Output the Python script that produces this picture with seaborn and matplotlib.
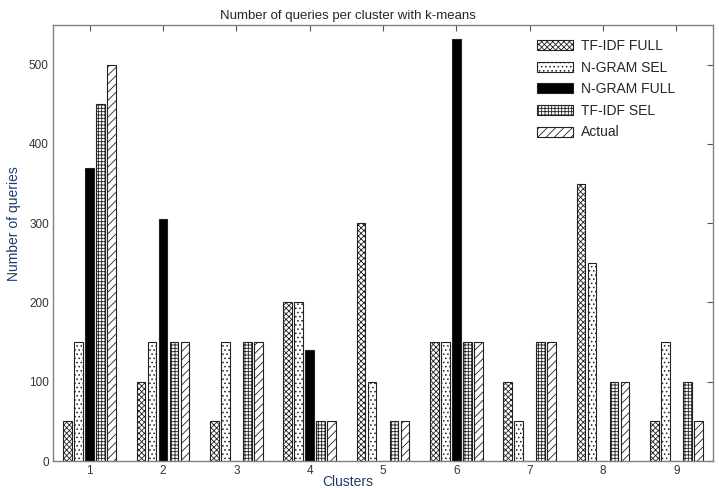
import pandas as pd
import matplotlib
matplotlib.use("Agg")
import matplotlib.pyplot as plt
import seaborn as sns

# values
clusters = ["1", "2", "3", "4", "5", "6", "7", "8", "9"]
methods = ["TF-IDF FULL", "N-GRAM SEL", "N-GRAM FULL", "TF-IDF SEL", "Actual"]
tfidf_full = [50, 100, 50, 200, 300, 150, 100, 350, 50]
ngram_sel = [150, 150, 150, 200, 100, 150, 50, 250, 150]
ngram_full = [370, 305, 0, 140, 0, 532, 0, 0, 0]
tfidf_sel = [450, 150, 150, 50, 50, 150, 150, 100, 100]
actual = [500, 150, 150, 50, 50, 150, 150, 100, 50]

series = [tfidf_full, ngram_sel, ngram_full, tfidf_sel, actual]
rows = []
for name, vals in zip(methods, series):
    for c, v in zip(clusters, vals):
        rows.append({"Cluster": c, "Method": name, "Queries": v})
df = pd.DataFrame(rows)

fills = ["white", "white", "black", "white", "white"]
hatches = ["xxxxxx", "....", "", "+++++", "////"]

sns.set_style("white")
plt.rcParams["font.family"] = ["Liberation Sans", "DejaVu Sans"]
plt.rcParams["hatch.linewidth"] = 0.6

fig = plt.figure(figsize=(7.19, 4.88), dpi=100)
ax = fig.add_axes([0.0737, 0.0553, 0.918, 0.8935])

sns.barplot(data=df, x="Cluster", y="Queries", hue="Method", hue_order=methods,
            order=clusters, palette=fills, width=0.75, gap=0.2,
            edgecolor="#222222", linewidth=0.8, legend=False, ax=ax)

for cont, h in zip(ax.containers, hatches):
    for p in cont.patches:
        p.set_hatch(h)

ax.set_xlim(-0.5, 8.5)
ax.set_ylim(0, 550)
ax.set_yticks([0, 100, 200, 300, 400, 500])

for s in ax.spines.values():
    s.set_color("#808080")
    s.set_linewidth(1.0)
    s.set_visible(True)

ax.tick_params(direction="in", top=True, right=True, length=4, width=0.8,
               color="#555555", labelsize=8.5, labelcolor="#333333", pad=3)

ax.set_title("Number of queries per cluster with k-means", fontsize=9.5,
             x=0.447, pad=4)
ax.set_xlabel("Clusters", fontsize=10, color="#1f3a6e")
ax.set_ylabel("Number of queries", fontsize=10, color="#1f3a6e")
ax.xaxis.set_label_coords(0.447, -0.033)
ax.yaxis.set_label_coords(-0.048, 0.545)

handles = [cont.patches[0] for cont in ax.containers]
ax.legend(handles, methods, loc="upper left", bbox_to_anchor=(0.733, 0.968),
          frameon=False, fontsize=10, handlelength=2.6, handleheight=0.75,
          handletextpad=0.6, labelspacing=0.55, borderpad=0, borderaxespad=0)

fig.savefig("out.png", dpi=100)
